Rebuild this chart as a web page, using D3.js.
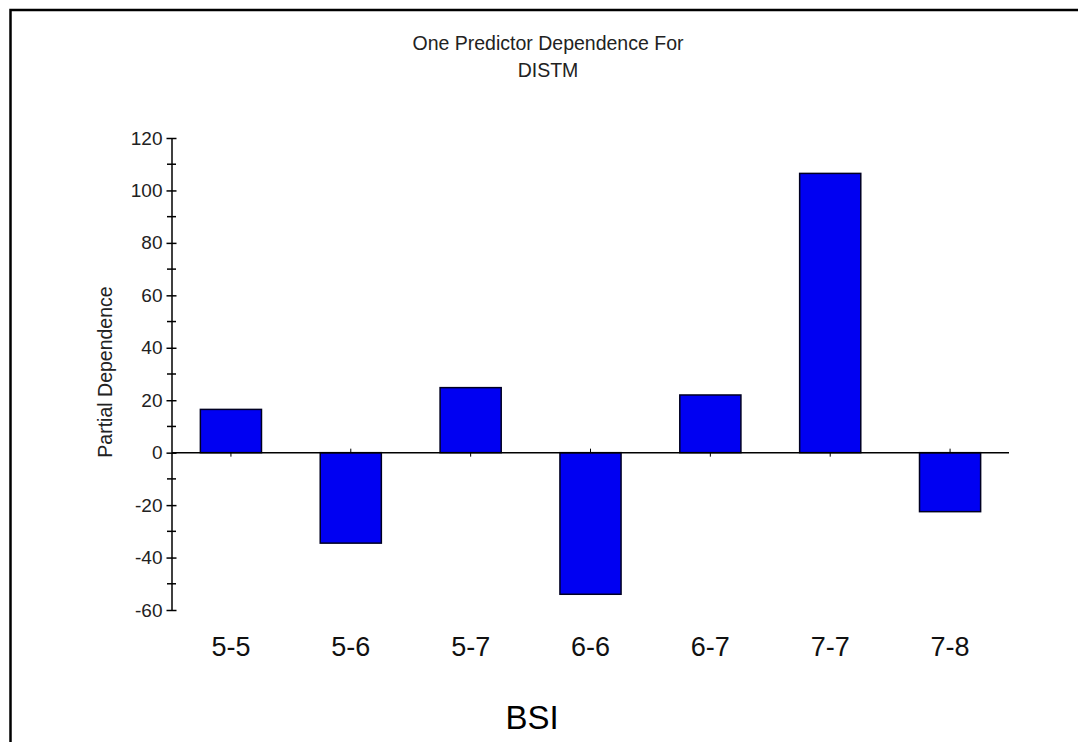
<!DOCTYPE html>
<html lang="en">
<head>
    <meta charset="UTF-8">
    <title>One Predictor Dependence For DISTM</title>
    <script src="https://d3js.org/d3.v7.min.js"></script>
    <style>
        body {
            margin: 0;
            background: #fff;
            font-family: Arial, "Liberation Sans", sans-serif;
        }
        .bar {
            fill: #0000f2;
            stroke: #000022;
            stroke-width: 1.5;
        }
        .axis path, .axis line {
            stroke: #000;
        }
    </style>
</head>
<body>
    <svg id="canvas" width="1078" height="742"></svg>

    <script>
        // Data
        const categories = ["5-5", "5-6", "5-7", "6-6", "6-7", "7-7", "7-8"];
        const values = [16.5, -34.5, 24.8, -54, 22, 106.5, -22.5];
        const yTicks = [-60, -40, -20, 0, 20, 40, 60, 80, 100, 120];
        const yMinorTicks = [-50, -30, -10, 10, 30, 50, 70, 90, 110];

        const svg = d3.select("#canvas");

        // frame (top + left edges only)
        svg.append("path")
            .attr("d", "M10.5,742 L10.5,10 L1078,10")
            .attr("fill", "none")
            .attr("stroke", "#000")
            .attr("stroke-width", 2.5);

        const x = d3.scaleBand()
            .domain(categories)
            .range([171, 1010])
            .paddingInner(0.49)
            .paddingOuter(0.245);

        const y = d3.scaleLinear()
            .domain([-60, 120])
            .range([610, 138]);

        // Title
        const title = svg.append("text")
            .attr("text-anchor", "middle")
            .attr("font-size", 19.5)
            .attr("fill", "#222");
        title.append("tspan").attr("x", 548).attr("y", 50).text("One Predictor Dependence For");
        title.append("tspan").attr("x", 548).attr("y", 77).text("DISTM");

        // ticks at category centers on the zero line
        svg.append("g")
            .selectAll("line")
            .data(categories)
            .join("line")
            .attr("x1", d => x(d) + x.bandwidth() / 2)
            .attr("x2", d => x(d) + x.bandwidth() / 2)
            .attr("y1", y(0) - 4)
            .attr("y2", y(0) + 4)
            .attr("stroke", "#000");

        // Bars
        svg.append("g")
            .selectAll("rect")
            .data(values)
            .join("rect")
            .attr("class", "bar")
            .attr("x", (d, i) => x(categories[i]))
            .attr("width", x.bandwidth())
            .attr("y", d => y(Math.max(0, d)))
            .attr("height", d => Math.abs(y(d) - y(0)));

        // zero line
        svg.append("line")
            .attr("x1", 172)
            .attr("x2", 1009)
            .attr("y1", y(0))
            .attr("y2", y(0))
            .attr("stroke", "#000")
            .attr("stroke-width", 1.5);

        // Y axis
        const yAxis = svg.append("g")
            .attr("class", "axis")
            .attr("transform", "translate(171.5,0)")
            .call(d3.axisLeft(y).tickValues(yTicks).tickFormat(d => String(d))
                .tickSize(5).tickSizeOuter(0).tickPadding(5));
        yAxis.select(".domain").attr("stroke-width", 1.5);
        yAxis.selectAll(".tick line").attr("x2", 5).attr("x1", -5).attr("stroke-width", 1.5);
        yAxis.selectAll(".tick text")
            .attr("font-family", "Arial, 'Liberation Sans', sans-serif")
            .attr("font-size", 19)
            .attr("fill", "#222")
            .attr("x", -9);

        svg.append("g")
            .selectAll("line")
            .data(yMinorTicks)
            .join("line")
            .attr("x1", 167)
            .attr("x2", 176)
            .attr("y1", d => y(d))
            .attr("y2", d => y(d))
            .attr("stroke", "#000")
            .attr("stroke-width", 1.5);

        // Category labels
        svg.append("g")
            .selectAll("text")
            .data(categories)
            .join("text")
            .attr("x", d => x(d) + x.bandwidth() / 2)
            .attr("y", 656)
            .attr("text-anchor", "middle")
            .attr("font-size", 27)
            .attr("fill", "#111")
            .text(d => d);

        // Axis titles
        svg.append("text")
            .attr("transform", "translate(112,372) rotate(-90)")
            .attr("text-anchor", "middle")
            .attr("font-size", 19.5)
            .attr("fill", "#222")
            .text("Partial Dependence");

        svg.append("text")
            .attr("x", 532)
            .attr("y", 729)
            .attr("text-anchor", "middle")
            .attr("font-size", 33)
            .attr("fill", "#000")
            .text("BSI");
    </script>
</body>
</html>
